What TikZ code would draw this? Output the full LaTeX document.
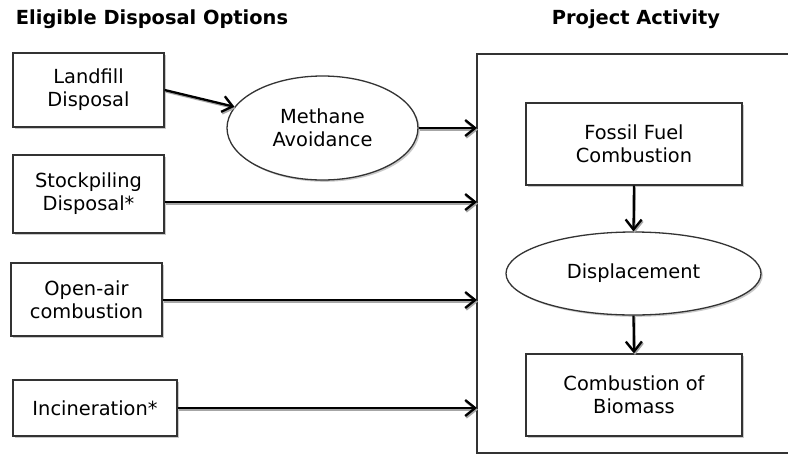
\documentclass[tikz,border=0pt]{standalone}
\usepackage{fontspec}
\setmainfont{DejaVu Sans}
\usetikzlibrary{shapes.geometric,shadows,arrows.meta}
\tikzset{
  txt/.style={font=\fontsize{19.4}{23}\selectfont, align=center},
  boxshadow/.style={drop shadow={shadow xshift=1.8pt, shadow yshift=-1.8pt, fill=black!35, opacity=0.6}},
  optbox/.style={txt, draw=black!80, line width=1.3pt, fill=white, rectangle, inner sep=0pt, boxshadow},
  ovalbox/.style={txt, draw=black!80, line width=1.3pt, fill=white, ellipse, inner sep=0pt, boxshadow},
  title/.style={font=\fontsize{19.4}{23}\selectfont\bfseries},
  conn/.style={line width=2.3pt, -{Straight Barb[length=10pt,width=16pt,line width=2.3pt]},
    preaction={draw=black!35, line width=2pt, transform canvas={shift={(1pt,-1.6pt)}}}},
  frame/.style={draw=black!80, line width=1.3pt}
}
\begin{document}
\begin{tikzpicture}[x=1pt,y=-1pt]
\useasboundingbox (0,0) rectangle (788,456);
\fill[white] (0,0) rectangle (788,456);

\node[title] (t1) at (152,19) {Eligible Disposal Options};
\node[title] (t2) at (636,19) {Project Activity};

% project activity frame (right side outside the picture)
\coordinate (fa) at (788,54);
\coordinate (fb) at (477,54);
\coordinate (fc) at (477,453);
\coordinate (fd) at (788,453);
\draw[frame] (fa) -- (fb) -- (fc) -- (fd);

\coordinate (e1) at (477,128);
\coordinate (e2) at (477,202);
\coordinate (e3) at (477,300);
\coordinate (e4) at (477,408);

\node[optbox, minimum width=151pt, minimum height=74pt] (land) at (88.5,90) {Landfill\\Disposal};
\node[optbox, minimum width=151pt, minimum height=78pt] (stock) at (88.5,194) {Stockpiling\\Disposal*};
\node[optbox, minimum width=151pt, minimum height=73pt] (open) at (86.5,299.5) {Open-air\\combustion};
\node[optbox, minimum width=164pt, minimum height=56pt] (inc) at (95,408) {Incineration*};

\node[ovalbox, minimum width=191pt, minimum height=104pt] (meth) at (322.5,128) {Methane\\Avoidance};

\node[optbox, minimum width=216pt, minimum height=82pt] (foss) at (634,144) {Fossil Fuel\\Combustion};
\node[ovalbox, minimum width=255pt, minimum height=83pt] (disp) at (633.5,273.5) {Displacement};
\node[optbox, minimum width=216pt, minimum height=82pt] (bio) at (634,395) {Combustion of\\Biomass};

\draw[conn] (land.east) -- (meth);
\draw[conn] (meth.east) -- (e1);
\draw[conn] (stock.east |- e2) -- (e2);
\draw[conn] (open.east |- e3) -- (e3);
\draw[conn] (inc.east |- e4) -- (e4);
\draw[conn] (foss.south) -- (disp.north);
\draw[conn] (disp.south) -- (bio.north);
\end{tikzpicture}
\end{document}
